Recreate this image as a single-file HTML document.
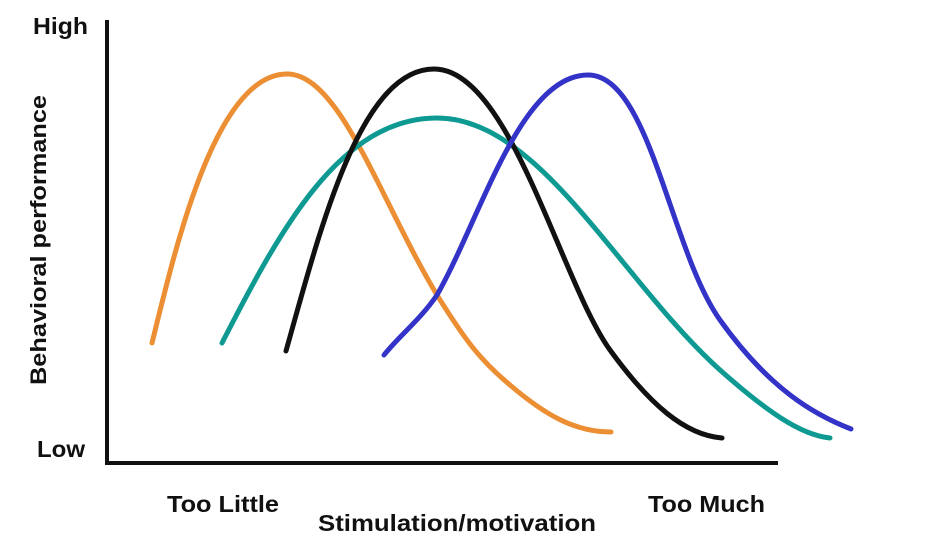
<!DOCTYPE html>
<html><head><meta charset="utf-8"><style>
html,body{margin:0;padding:0;background:#fff;}
svg{display:block;}
text{font-family:"Liberation Sans",sans-serif;font-weight:bold;fill:#111;}
</style></head><body>
<svg width="933" height="556" viewBox="0 0 933 556">
<line x1="107" y1="20" x2="107" y2="465" stroke="#111" stroke-width="4"/>
<line x1="105" y1="463" x2="778" y2="463" stroke="#111" stroke-width="4"/>
<g fill="none" stroke-width="5" stroke-linecap="round">
<path d="M152,343 C175,250 215,74 287,74 C340,74 380,200 437,295 C465,340 480,360 510,385 C545,415 575,432 611,432" stroke="#EC8E33"/>
<path d="M222,343 C280,230 340,118 437,118 C540,118 620,280 720,370 C765,410 800,435 830,438" stroke="#0E9A92"/>
<path d="M286,351 C320,230 360,69 434,69 C510,69 560,280 610,350 C650,405 685,435 722,438" stroke="#111111"/>
<path d="M384,355 C400,335 420,320 437,295 C480,220 520,75 588,75 C650,75 670,250 720,320 C770,390 815,415 851,429" stroke="#3333C8"/>
</g>
<text x="33" y="34" font-size="23" textLength="55" lengthAdjust="spacingAndGlyphs">High</text>
<text x="37" y="457" font-size="23" textLength="48" lengthAdjust="spacingAndGlyphs">Low</text>
<text x="167" y="512" font-size="23" textLength="112" lengthAdjust="spacingAndGlyphs">Too Little</text>
<text x="648" y="512" font-size="23" textLength="117" lengthAdjust="spacingAndGlyphs">Too Much</text>
<text x="318" y="531" font-size="23" textLength="278" lengthAdjust="spacingAndGlyphs">Stimulation/motivation</text>
<text transform="translate(46,240) rotate(-90)" text-anchor="middle" font-size="22" textLength="290" lengthAdjust="spacingAndGlyphs">Behavioral performance</text>
</svg>
</body></html>
